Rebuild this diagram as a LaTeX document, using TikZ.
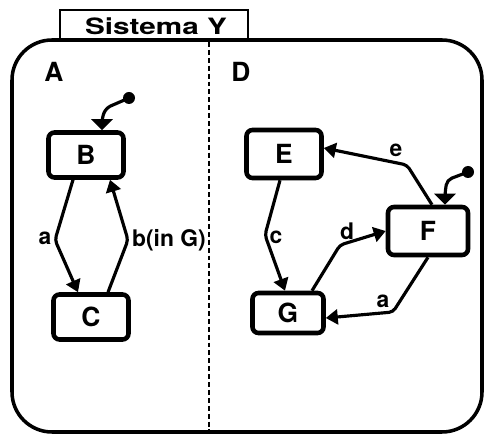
\documentclass[tikz,border=0pt]{standalone}
\usepackage{fontspec}
\setmainfont{TeX Gyre Heros}
\newfontfamily\tabfont[FakeStretch=1.32]{TeX Gyre Heros}
\usetikzlibrary{arrows.meta}
\tikzset{
  state/.style={draw,line width=2.6pt,rounded corners=1.2mm,minimum width=15mm,
    minimum height=9mm,font=\fontsize{15}{18}\selectfont\bfseries},
  trans/.style={line width=1.8pt,rounded corners=0.8mm,-{Triangle[width=3mm,length=2.4mm]}},
  initial/.style={line width=1.8pt,rounded corners=1mm,-{Triangle[width=4.2mm,length=2.2mm]}},
  lbl/.style={font=\fontsize{13}{15}\selectfont\bfseries,inner sep=1pt},
  region/.style={font=\fontsize{15}{18}\selectfont\bfseries},
}
\begin{document}
\begin{tikzpicture}[x=0.2mm,y=-0.2mm]
  \useasboundingbox (0,0) rectangle (500,444);
  \draw[line width=2pt,rounded corners=8mm] (12,40) rectangle (482,432);
  \draw[line width=1.3pt] (60,40) rectangle (248,10);
  \node (title) at (156,26) {\tabfont\fontsize{12.8}{15}\selectfont\bfseries Sistema Y};
  \draw[line width=0.9pt,dash pattern=on 2.8pt off 1.7pt] (209,42) -- (209,432);
  \node[region] (A) at (54,72) {A};
  \node[region] (D) at (241,72) {D};

  \node[state] (B) at (86,155) {B};
  \node[state] (C) at (91,317) {C};
  \node[state,minimum height=9.6mm] (E) at (284,154) {E};
  \node[state,minimum width=16mm,minimum height=9.6mm] (F) at (428,231) {F};
  \node[state,minimum width=14.2mm,minimum height=8mm] (G) at (288,313) {G};

  \coordinate (initB) at (129,98);
  \coordinate (initF) at (468,172);
  \fill (initB) circle (1.2mm);
  \fill (initF) circle (1.2mm);
  \draw[initial] (initB) -- (106,108) -- (102,118) -- ([xshift=3.2mm]B.north);
  \draw[initial] (initF) -- (447,180) -- (445,193) -- ([xshift=3.4mm]F.north);

  \begin{scope}[trans]
    \draw ([xshift=-2.6mm]B.south) -- (55,240) -- ([xshift=-2.6mm]C.north);
    \draw ([xshift=3.4mm]C.north) -- (128,240) -- ([xshift=4.8mm]B.south);
    \draw ([xshift=-0.8mm]E.south) -- (265,235) -- ([xshift=-0.6mm]G.north);
    \draw ([xshift=4.8mm]G.north) -- (340,245) -- (F.west);
    \draw ([xshift=0.8mm]F.north) -- (407,165) -- ([yshift=1.2mm]E.east);
    \draw (F.south) -- (393,312) -- ([yshift=-1mm]G.east);
  \end{scope}

  \node[lbl] (la) at (45,238) {a};
  \node[lbl,anchor=west] (lb) at (130,240) {b(in G)};
  \node[lbl] (lc) at (276,237) {c};
  \node[lbl] (ld) at (347,231) {d};
  \node[lbl] (le) at (396,150) {e};
  \node[lbl] (la2) at (383,301) {a};
\end{tikzpicture}
\end{document}
